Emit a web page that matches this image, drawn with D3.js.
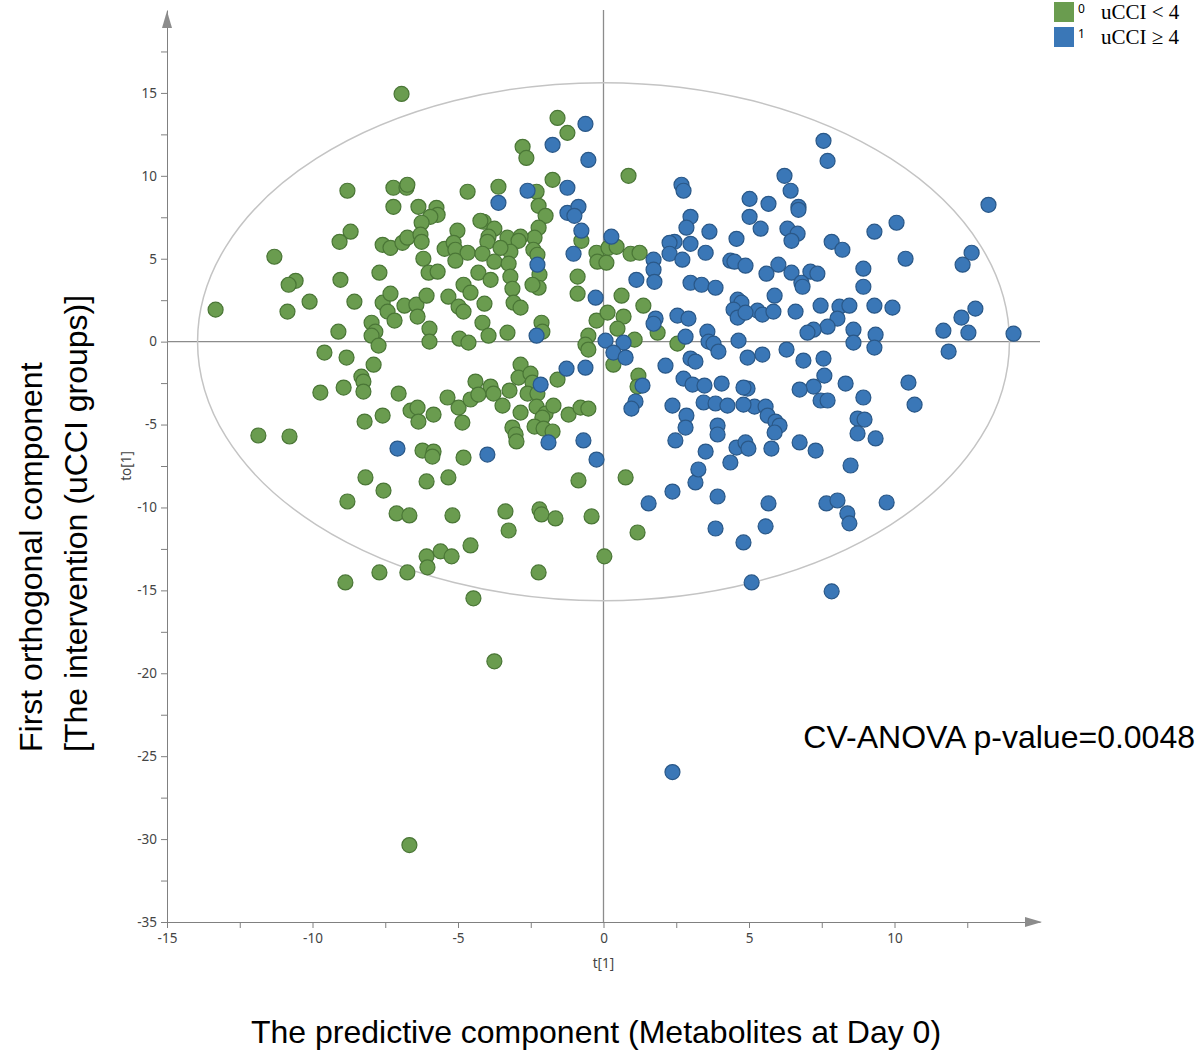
<!DOCTYPE html>
<html lang="en">
<head>
<meta charset="utf-8">
<title>OPLS-DA score plot</title>
<script src="https://d3js.org/d3.v7.min.js"></script>
<style>
  body { margin: 0; background: #fff; }
  .tick text { font-family: "Noto Sans", "Open Sans", sans-serif; font-size: 13.5px; fill: #444; }
  .big { font-family: "Liberation Sans", Arial, sans-serif; font-size: 32px; fill: #000; }
</style>
</head>
<body>
<div id="chart"></div>
<script>
// scores: [t[1], to[1]] for each sample
var groupCodes = ["0", "1"];
var groupNames = ["uCCI < 4", "uCCI \u2265 4"];

var scoresLow = [
  [-6.94,14.94],[-8.80,9.10],[-7.22,9.28],[-6.77,9.28],[-6.74,9.46],[-7.22,8.13],[-6.36,8.13],[-5.74,8.07],
  [-5.70,7.65],[-5.95,7.53],[-6.25,7.17],[-5.02,6.69],[-8.69,6.63],[-9.07,6.02],[-7.59,5.84],[-7.32,5.66],
  [-6.91,5.96],[-6.74,6.27],[-6.29,6.45],[-6.25,6.02],[-5.46,5.60],[-5.15,5.96],[-5.09,5.54],[-4.67,5.36],
  [-5.09,4.88],[-6.19,5.00],[-11.31,5.12],[-6.01,4.16],[-5.70,4.22],[-7.70,4.16],[-9.04,3.73],[-10.58,3.67],
  [-10.82,3.43],[-4.67,9.04],
  [-1.58,13.49],[-1.24,12.59],[-2.78,11.75],[-2.65,11.08],[-1.75,9.76],[0.86,10.00],[-3.61,9.34],[-2.30,9.04],
  [-2.23,8.19],[-1.99,7.59],[-2.23,6.87],[-2.37,6.27],[-2.41,5.54],[-2.27,5.24],[-2.20,4.04],[-0.76,6.08],
  [-0.89,3.92],[-0.24,5.36],[-0.21,4.82],[0.10,4.76],[0.17,5.66],[0.45,5.72],[0.93,5.30],[1.24,5.36],
  [-4.12,7.23],[-4.23,7.29],[-3.75,6.81],[-3.95,6.33],[-3.99,6.02],[-3.30,6.27],[-2.85,6.33],[-2.92,6.08],
  [-3.20,5.42],[-3.54,5.66],[-4.16,5.30],[-3.75,4.82],[-3.26,4.70],[-4.30,4.16],[-3.88,3.73],[-3.20,3.92],
  [-13.33,1.93],[-10.86,1.81],[-10.10,2.41],[-8.56,2.41],[-7.59,2.35],[-7.32,2.89],[-7.42,1.81],[-7.18,1.27],
  [-6.84,2.17],[-6.43,2.23],[-6.39,1.51],[-6.08,2.77],[-5.33,2.71],[-4.98,2.11],[-4.81,1.81],[-4.81,3.43],
  [-4.57,2.95],[-7.97,1.14],[-7.84,0.60],[-7.97,0.36],[-7.73,-0.24],[-5.98,0.78],[-5.98,0.00],[-4.95,0.18],
  [-4.64,-0.06],[-9.11,0.60],[-9.59,-0.66],[-8.83,-0.96],[-7.90,-1.39],[-8.32,-2.11],[-8.25,-2.41],[-8.25,-3.01],
  [-8.93,-2.77],[-9.73,-3.07],[-7.04,-3.13],[-6.63,-4.16],[-6.39,-3.98],[-6.36,-4.82],[-5.84,-4.40],[-5.36,-3.37],
  [-4.98,-3.98],[-4.85,-4.88],[-4.57,-3.49],[-7.59,-4.46],[-8.21,-4.82],[-11.86,-5.66],[-10.79,-5.72],[-6.22,-6.57],
  [-5.84,-6.63],[-5.88,-6.93],[-4.81,-6.99],[-8.18,-8.19],[-6.08,-8.43],[-5.33,-8.19],
  [-3.13,3.19],[-2.23,3.25],[-2.44,3.43],[-0.89,2.89],[0.62,2.77],[1.37,2.17],[-4.09,2.29],[-3.09,2.35],
  [-2.85,2.05],[-4.16,1.14],[-3.95,0.36],[-3.30,0.54],[-2.13,1.14],[-2.10,0.60],[-0.24,1.27],[0.14,1.75],
  [0.69,1.51],[0.48,0.78],[1.86,0.54],[1.07,0.12],[2.54,-0.12],[-0.52,0.36],[-0.62,-0.18],[-0.52,-0.48],
  [0.34,-1.39],[1.20,-2.05],[1.17,-2.71],[-1.58,-2.29],[-2.85,-1.39],[-2.92,-2.17],[-2.51,-1.93],[-2.44,-2.47],
  [-4.40,-2.41],[-3.88,-2.71],[-3.78,-3.13],[-4.30,-3.19],[-3.23,-2.95],[-3.47,-3.86],[-2.85,-4.28],[-2.61,-3.13],
  [-2.27,-3.13],[-2.30,-3.92],[-1.99,-4.34],[-1.72,-3.86],[-2.10,-4.58],[-2.37,-5.12],[-2.06,-5.24],[-1.75,-5.42],
  [-3.13,-5.18],[-3.02,-5.60],[-2.99,-6.02],[-1.20,-4.40],[-0.79,-3.98],[-0.52,-4.04],[0.76,-8.19],[-0.86,-8.37],
  [-3.37,-10.24],[-3.26,-11.39],[-2.20,-10.12],[-2.13,-10.42],[-1.65,-10.66],[-0.41,-10.54],[1.17,-11.51],[-4.57,-12.29],
  [0.03,-12.95],[-2.23,-13.92],[-4.47,-15.48],[-3.75,-19.28],
  [-7.56,-8.98],[-8.80,-9.64],[-7.11,-10.36],[-6.67,-10.48],[-5.19,-10.48],[-6.08,-12.95],[-5.60,-12.65],[-5.22,-12.95],
  [-6.05,-13.61],[-6.74,-13.92],[-7.70,-13.92],[-8.87,-14.52],[-6.67,-30.36]
];

var scoresHigh = [
  [-0.62,13.13],[-1.75,11.87],[-0.52,10.96],[-2.61,9.10],[-3.61,8.37],[-1.24,9.28],[-1.24,7.77],[-0.86,8.13],
  [-1.00,7.59],[-0.76,6.69],[-1.03,5.30],[-2.27,4.64],[0.27,6.33],[2.68,9.46],[2.75,9.10],[2.99,7.53],
  [2.85,6.87],[3.64,6.63],[5.02,8.61],[5.02,7.53],[4.57,6.20],[2.44,6.02],[2.27,5.96],[2.99,5.90],
  [2.27,5.30],[2.71,4.94],[3.51,5.36],[4.36,4.88],[4.50,4.82],[4.88,4.58],[1.72,4.94],[1.72,4.34],
  [1.13,3.73],[1.75,3.61],[2.99,3.55],[3.37,3.43],[3.85,3.25],
  [7.56,12.11],[7.70,10.90],[6.22,10.00],[6.43,9.10],[5.67,8.31],[6.70,8.13],[6.70,7.95],[5.40,6.81],
  [6.32,6.81],[6.67,6.51],[6.46,6.08],[7.84,6.02],[8.21,5.54],[9.31,6.63],[10.07,7.17],[13.23,8.25],
  [10.38,5.00],[12.65,5.36],[12.34,4.64],[8.93,4.40],[6.01,4.64],[5.60,4.10],[6.46,4.16],[7.11,4.22],
  [7.35,4.10],
  [6.80,3.55],[6.84,3.31],[8.93,3.31],[5.88,2.77],[5.29,1.87],[5.46,1.63],[5.84,1.81],[6.60,1.81],
  [7.46,2.17],[8.11,2.11],[8.45,2.17],[9.31,2.17],[9.93,2.05],[8.04,1.39],[7.70,0.90],[7.22,0.72],
  [7.01,0.54],[8.59,0.72],[9.35,0.42],[8.59,-0.06],[9.31,-0.36],[11.68,0.66],[12.30,1.45],[12.78,1.99],
  [12.54,0.54],[14.09,0.48],[11.86,-0.60],[5.46,-0.78],[6.29,-0.48],[6.87,-1.14],[7.56,-1.02],[7.59,-2.05],
  [8.32,-2.53],[7.22,-2.71],[6.74,-2.89],[7.46,-3.55],[7.70,-3.55],[8.93,-3.37],[10.48,-2.47],[10.69,-3.80],
  [5.19,-3.92],[5.57,-3.92],[5.64,-4.46],[5.91,-4.82],[6.05,-5.06],[5.88,-5.48],[8.73,-4.64],[8.97,-4.70],
  [8.73,-5.54],[9.35,-5.84],[5.77,-6.45],[6.74,-6.08],[7.29,-6.57],[8.49,-7.47],
  [5.67,-9.76],[5.57,-11.14],[4.81,-12.11],[7.66,-9.76],[8.04,-9.58],[8.38,-10.36],[8.45,-10.96],[9.73,-9.70],
  [5.09,-14.52],[7.84,-15.06],
  [1.55,-9.76],[2.37,-9.04],[3.16,-8.49],[3.92,-9.34],[3.85,-11.27],[2.37,-25.96],[-7.08,-6.45],
  [-0.27,2.65],[-2.30,0.36],[0.07,0.06],[0.69,-0.06],[0.34,-0.66],[0.76,-0.96],[-0.62,-1.57],[-1.27,-1.63],
  [-2.16,-2.59],[1.34,-2.65],[1.10,-3.61],[0.96,-4.04],[-1.89,-6.08],[-0.69,-5.96],[-0.24,-7.11],[-3.99,-6.81],
  [1.79,1.39],[1.72,1.08],[2.54,1.57],[2.92,1.39],[2.82,0.30],[2.13,-1.45],[2.99,-1.02],[3.16,-1.20],
  [2.75,-2.23],[3.06,-2.59],[3.47,-2.65],[4.06,-2.53],[2.37,-3.86],[2.85,-4.46],[2.82,-5.18],[2.47,-5.96],
  [3.51,-6.63],[3.26,-7.71],[3.44,-3.67],[3.85,-3.73],[4.26,-3.86],[3.92,-5.06],[3.92,-5.60],[4.57,-6.39],
  [4.36,-7.29],[4.88,-6.08],[4.95,-2.83],[4.81,-2.77],[4.81,-3.80],[3.57,0.60],[3.61,0.00],[3.78,-0.12],
  [3.95,-0.60],[4.64,0.06],[4.95,-0.96],[4.61,2.53],[4.74,2.35],[4.47,1.93],[4.61,1.45],[4.88,1.75],
  [4.98,-6.45]
];

// Hotelling T2 ellipse half axes (t[1], to[1])
var ellipseRadius = [13.95, 15.62];

var fillColors = ["#6a9c4f", "#3a77b7"];
var strokeColors = ["#4a7636", "#2a5888"];

var width = 1199, height = 1050;

var svg = d3.select("#chart").append("svg")
    .attr("width", width)
    .attr("height", height);

var x = d3.scaleLinear().domain([-15, 15]).range([167, 1040]);
var y = d3.scaleLinear().domain([-35, 20]).range([922, 10]);

// x axis
var xAxis = d3.axisBottom(x)
    .tickValues(d3.range(-15, 13, 2.5))
    .tickFormat(function(d) { return d % 5 === 0 ? d : ""; })
    .tickSize(6)
    .tickSizeOuter(0)
    .tickPadding(5);
var gx = svg.append("g")
    .attr("transform", "translate(0," + y(-35) + ")")
    .call(xAxis);
gx.selectAll("path, line").attr("stroke", "#808080");

// y axis
var yAxis = d3.axisLeft(y)
    .tickValues(d3.range(-35, 20, 2.5))
    .tickFormat(function(d) { return d % 5 === 0 ? d : ""; })
    .tickSize(6)
    .tickSizeOuter(0)
    .tickPadding(4);
var gy = svg.append("g")
    .attr("transform", "translate(" + x(-15) + ",0)")
    .call(yAxis);
gy.selectAll("path, line").attr("stroke", "#808080");

// arrow heads
svg.append("path")
    .attr("d", "M" + (x(15) + 2) + "," + y(-35) + "l-17,-5l0,10z")
    .attr("fill", "#8c8c8c");
svg.append("path")
    .attr("d", "M" + x(-15) + "," + (y(20) + 1) + "l-5,17l10,0z")
    .attr("fill", "#8c8c8c");

// zero lines
svg.append("line")
    .attr("x1", x(-15)).attr("x2", x(15))
    .attr("y1", y(0)).attr("y2", y(0))
    .attr("stroke", "#8c8c8c").attr("stroke-width", 1.3);
svg.append("line")
    .attr("x1", x(0)).attr("x2", x(0))
    .attr("y1", y(20)).attr("y2", y(-35))
    .attr("stroke", "#8c8c8c").attr("stroke-width", 1.3);

// ellipse
svg.append("ellipse")
    .attr("cx", x(0)).attr("cy", y(0))
    .attr("rx", x(ellipseRadius[0]) - x(0))
    .attr("ry", y(0) - y(ellipseRadius[1]))
    .attr("fill", "none")
    .attr("stroke", "#c4c4c4")
    .attr("stroke-width", 1.5);

// points
[scoresLow, scoresHigh].forEach(function(scores, i) {
  svg.append("g").selectAll("circle")
    .data(scores)
    .enter().append("circle")
      .attr("cx", function(d) { return x(d[0]); })
      .attr("cy", function(d) { return y(d[1]); })
      .attr("r", 7.5)
      .attr("fill", fillColors[i])
      .attr("stroke", strokeColors[i])
      .attr("stroke-width", 1.2);
});

// small axis names
svg.append("text")
    .attr("x", x(0)).attr("y", 968)
    .attr("text-anchor", "middle")
    .style("font-family", "'Noto Sans', sans-serif").style("font-size", "13.5px").style("fill", "#444")
    .text("t[1]");
svg.append("text")
    .attr("transform", "translate(131," + y(-7.5) + ") rotate(-90)")
    .attr("text-anchor", "middle")
    .style("font-family", "'Noto Sans', sans-serif").style("font-size", "13.5px").style("fill", "#444")
    .text("to[1]");

// big titles
svg.append("text").attr("class", "big")
    .attr("x", 596).attr("y", 1043)
    .attr("text-anchor", "middle")
    .text("The predictive component (Metabolites at Day 0)");
svg.append("text").attr("class", "big")
    .attr("transform", "translate(42,752) rotate(-90)")
    .text("First orthogonal component");
svg.append("text").attr("class", "big")
    .attr("transform", "translate(87,752) rotate(-90)")
    .text("[The intervention (uCCI groups)]");
svg.append("text").attr("class", "big")
    .attr("x", 1195).attr("y", 748)
    .attr("text-anchor", "end")
    .text("CV-ANOVA p-value=0.0048");

// legend
var legend = svg.append("g").selectAll("g")
    .data(groupCodes)
    .enter().append("g")
      .attr("transform", function(d, i) { return "translate(1054," + (2 + i * 25) + ")"; });
legend.append("rect")
    .attr("width", 20).attr("height", 20)
    .attr("fill", function(d, i) { return fillColors[i]; });
legend.append("text")
    .attr("x", 24).attr("y", 11)
    .style("font-family", "'Noto Sans', sans-serif").style("font-size", "12px")
    .text(function(d) { return d; });
legend.append("text")
    .attr("x", 47).attr("y", 17)
    .style("font-family", "'Liberation Serif', 'Times New Roman', serif").style("font-size", "21px")
    .text(function(d, i) { return groupNames[i]; });
</script>
</body>
</html>
